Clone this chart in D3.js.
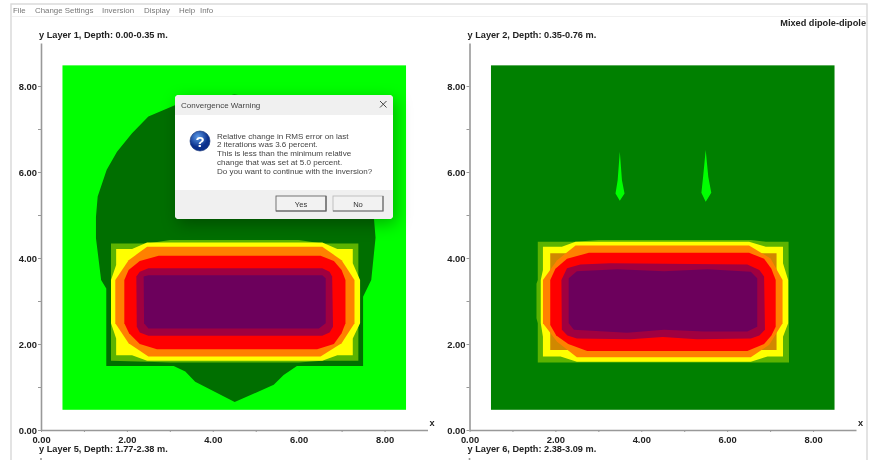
<!DOCTYPE html>
<html>
<head>
<meta charset="utf-8">
<script src="https://cdn.jsdelivr.net/npm/d3@7"></script>
<style>
  html, body { margin: 0; padding: 0; background: #fff; overflow: hidden; }
  svg { display: block; filter: blur(0.55px); font-family: "Liberation Sans", Arial, sans-serif; }
  .axis path, .axis line { stroke: #999; }
  .axis path { stroke-width: 1.6; }
  .axis text { font-size: 9.4px; font-weight: bold; fill: #222; font-family: "Liberation Sans", Arial, sans-serif; }
  .title { font-size: 9.2px; font-weight: bold; fill: #222; }
  .menu { font-size: 7.9px; fill: #777; }
  .msg { font-size: 8.05px; fill: #444; }
</style>
</head>
<body>
<svg width="869" height="460"></svg>
<script>
const ticks = [0, 1, 2, 3, 4, 5, 6, 7, 8]
const menuLabels = ['File', 'Change Settings', 'Inversion', 'Display', 'Help', 'Info']
const menuX = [13, 35, 102, 144, 179, 200]
const messageLines = [
  'Relative change in RMS error on last',
  '2 iterations was 3.6 percent.',
  'This is less than the minimum relative',
  'change that was set at 5.0 percent.',
  'Do you want to continue with the inversion?'
]

// contour outlines in metres
const extent = [[0.5, 0.47], [8.5, 8.48]]

const layer1Blob = [[4.51,0.65],[3.59,1.12],[3.36,1.36],[3.09,1.49],[1.52,1.49],[1.52,3.29],[1.4,3.49],[1.28,4.46],[1.28,4.96],[1.32,5.43],[1.53,6.05],[1.77,6.47],[2.12,6.9],[2.5,7.29],[3.13,7.56],[4.5,7.8],[6.4,7.56],[7.3,6.4],[7.75,4.96],[7.79,4.47],[7.69,3.49],[7.5,3.1],[7.5,1.49],[5.96,1.49],[5.65,1.28],[5.42,1.05]]
const layer1Mid = [[1.63,4.34],[2.47,4.34],[3.01,4.42],[6,4.42],[6.55,4.34],[7.39,4.34],[7.39,1.61],[6.55,1.61],[6,1.57],[3,1.57],[2.47,1.59],[1.63,1.61]]
const layer1Yellow = [[1.75,4.21],[2.12,4.21],[2.47,4.36],[6.55,4.36],[6.9,4.21],[7.26,4.21],[7.26,3.88],[7.43,3.49],[7.43,2.48],[7.26,2.13],[7.26,1.74],[6.9,1.74],[6.55,1.61],[2.47,1.61],[2.12,1.74],[1.75,1.74],[1.75,2.13],[1.63,2.48],[1.63,3.49],[1.75,3.84]]
const layer1Orange = [[2.47,4.26],[6.55,4.26],[7,3.95],[7.3,3.49],[7.3,2.48],[7,2.02],[6.51,1.71],[2.5,1.71],[2.04,2.02],[1.73,2.48],[1.73,3.49],[2.04,3.95]]
const layer1Red = [[2.74,4.05],[6.51,4.05],[6.82,3.93],[7,3.72],[7.09,3.49],[7.09,2.48],[7,2.25],[6.82,2],[6.43,1.88],[2.7,1.88],[2.3,2],[2.05,2.25],[1.94,2.48],[1.94,3.49],[2.04,3.72],[2.3,3.93]]
const layer1Crimson = [[2.5,3.76],[6.55,3.76],[6.72,3.68],[6.78,3.57],[6.8,2.4],[6.72,2.27],[6.55,2.19],[2.5,2.19],[2.3,2.27],[2.23,2.4],[2.22,3.57],[2.3,3.68]]
const layer1Purple = [[2.5,3.6],[6.55,3.6],[6.63,3.53],[6.63,2.48],[6.47,2.36],[2.5,2.36],[2.4,2.48],[2.39,3.57]]

const layer2SpikeA = [[3.5,6.47],[3.55,5.81],[3.61,5.5],[3.5,5.33],[3.4,5.5],[3.45,5.81]]
const layer2SpikeB = [[5.5,6.51],[5.56,5.89],[5.63,5.52],[5.5,5.31],[5.4,5.52],[5.44,5.89]]
const layer2Mid = [[1.59,4.38],[2.47,4.38],[3,4.42],[6.55,4.42],[6.9,4.38],[7.43,4.38],[7.44,1.57],[6.55,1.57],[2.47,1.57],[1.59,1.57],[1.59,2.48],[1.56,2.6],[1.56,3.4],[1.59,3.49]]
const layer2Yellow = [[1.71,4.26],[2.15,4.26],[2.47,4.38],[6.51,4.38],[6.9,4.26],[7.3,4.26],[7.3,3.88],[7.42,3.49],[7.42,2.48],[7.3,2.17],[7.3,1.71],[6.94,1.71],[6.55,1.59],[2.5,1.59],[2.12,1.71],[1.71,1.71],[1.71,2.17],[1.66,2.48],[1.66,3.49],[1.71,3.72]]
const layer2Brown = [[1.88,4.11],[7.15,4.11],[7.15,1.86],[1.88,1.86]]
const layer2Orange = [[2.47,4.29],[6.51,4.29],[7.01,3.99],[7.29,3.49],[7.29,2.48],[6.98,1.98],[6.55,1.69],[2.5,1.69],[2.04,2.05],[1.71,2.48],[1.71,3.49],[2.04,3.95]]
const layer2Red = [[2.78,4.12],[6.51,4.12],[6.86,3.98],[7.03,3.75],[7.13,3.49],[7.13,2.4],[7.03,2.2],[6.86,2],[6.47,1.84],[2.74,1.84],[2.3,2],[2.02,2.2],[1.88,2.44],[1.88,3.49],[2,3.75],[2.27,3.98]]
const layer2Crimson = [[2.58,3.85],[3.28,3.88],[6.47,3.85],[6.75,3.72],[6.86,3.57],[6.88,2.33],[6.75,2.2],[6.55,2.13],[5.3,2.11],[4.5,2.16],[3.75,2.11],[2.5,2.13],[2.28,2.2],[2.15,2.33],[2.14,3.49],[2.27,3.76]]
const layer2Purple = [[2.5,3.69],[3.44,3.74],[4.53,3.69],[5.54,3.74],[6.55,3.68],[6.7,3.53],[6.7,2.4],[6.47,2.29],[5.46,2.29],[4.53,2.33],[3.67,2.26],[2.43,2.33],[2.31,2.48],[2.31,3.53]]

const GREEN = '#00ff00', DARK = '#008000', BLOB = '#006f00', MID = '#5cb300'
const YELLOW = '#ffff00', BROWN = '#d08800', ORANGE = '#ff8000', RED = '#ff0000', CRIMSON = '#a00040', PURPLE = '#6c005c'

const svg = d3.select('svg')
const y = d3.scaleLinear().domain([0, 9]).range([430, 43])

// window frame and menu
svg.append('rect').attr('x', 11).attr('y', 4).attr('width', 856).attr('height', 470)
  .attr('fill', '#fff').attr('stroke', '#d8d8d8').attr('stroke-width', 1.4)
svg.append('line').attr('x1', 12).attr('x2', 866).attr('y1', 16.5).attr('y2', 16.5).attr('stroke', '#f0f0f0')
svg.selectAll('.menu').data(menuLabels).enter().append('text')
  .attr('class', 'menu')
  .attr('x', (d, i) => menuX[i]).attr('y', 13)
  .text(d => d)
svg.append('text').attr('class', 'title')
  .attr('x', 866).attr('y', 26).attr('text-anchor', 'end')
  .text('Mixed dipole-dipole')

const drawPanel = (x0, layerTitle, nextTitle, background, bands) => {
  const x = d3.scaleLinear().domain([0, 9]).range([x0, x0 + 386.5])
  const g = svg.append('g')
  const outline = d3.line().x(d => x(d[0])).y(d => y(d[1]))

  g.append('rect')
    .attr('x', x(extent[0][0])).attr('y', y(extent[1][1]))
    .attr('width', x(extent[1][0]) - x(extent[0][0]))
    .attr('height', y(extent[0][1]) - y(extent[1][1]))
    .attr('fill', background)

  g.selectAll('path.band').data(bands).enter().append('path')
    .attr('class', 'band')
    .attr('d', d => outline(d.points) + 'Z')
    .attr('fill', d => d.color)

  const fmt = d => d % 2 === 0 ? d.toFixed(2) : ''
  g.append('g').attr('class', 'axis')
    .attr('transform', `translate(${x0},0)`)
    .call(d3.axisLeft(y).tickValues(ticks).tickSize(3).tickSizeOuter(0).tickPadding(1).tickFormat(fmt))
  g.append('g').attr('class', 'axis')
    .attr('transform', 'translate(0,430)')
    .call(d3.axisBottom(x).tickValues(ticks).tickSize(2).tickSizeOuter(0).tickPadding(4).tickFormat(fmt))

  g.append('text').attr('class', 'title').attr('x', x0 - 2).attr('y', 38).text(layerTitle)
  g.append('text').attr('class', 'title').attr('x', x0 - 2).attr('y', 452).text(nextTitle)
  g.append('text').attr('class', 'title').attr('x', x(9) + 2).attr('y', 426).text('x')
  g.append('line').attr('x1', x0).attr('x2', x0).attr('y1', 458).attr('y2', 460)
    .attr('stroke', '#999').attr('stroke-width', 1.6)
}

drawPanel(41, 'y Layer 1, Depth: 0.00-0.35 m.', 'y Layer 5, Depth: 1.77-2.38 m.', GREEN, [
  { points: layer1Blob, color: BLOB },
  { points: layer1Mid, color: MID },
  { points: layer1Yellow, color: YELLOW },
  { points: layer1Orange, color: ORANGE },
  { points: layer1Red, color: RED },
  { points: layer1Crimson, color: CRIMSON },
  { points: layer1Purple, color: PURPLE }
])

drawPanel(469.5, 'y Layer 2, Depth: 0.35-0.76 m.', 'y Layer 6, Depth: 2.38-3.09 m.', DARK, [
  { points: layer2SpikeA, color: GREEN },
  { points: layer2SpikeB, color: GREEN },
  { points: layer2Mid, color: MID },
  { points: layer2Yellow, color: YELLOW },
  { points: layer2Brown, color: BROWN },
  { points: layer2Orange, color: ORANGE },
  { points: layer2Red, color: RED },
  { points: layer2Crimson, color: CRIMSON },
  { points: layer2Purple, color: PURPLE }
])

// warning dialog on top
const defs = svg.append('defs')
const grad = defs.append('radialGradient').attr('id', 'qmark').attr('cx', '40%').attr('cy', '30%')
grad.append('stop').attr('offset', '0%').attr('stop-color', '#5c9be8')
grad.append('stop').attr('offset', '100%').attr('stop-color', '#0a2f8c')
const clip = defs.append('clipPath').attr('id', 'dialogClip')
clip.append('rect').attr('x', 175).attr('y', 95).attr('width', 218).attr('height', 124).attr('rx', 4)

const dialog = svg.append('g')
dialog.append('rect').attr('x', 175).attr('y', 95).attr('width', 218).attr('height', 124).attr('rx', 4)
  .attr('fill', '#fff')
  .style('filter', 'drop-shadow(3px 5px 8px rgba(0,0,0,0.3))')
const inner = dialog.append('g').attr('clip-path', 'url(#dialogClip)')
inner.append('rect').attr('x', 175).attr('y', 95).attr('width', 218).attr('height', 20).attr('fill', '#f0f0f0')
inner.append('rect').attr('x', 175).attr('y', 190).attr('width', 218).attr('height', 29).attr('fill', '#f0f0f0')
dialog.append('text').attr('x', 181).attr('y', 108).attr('font-size', 8).attr('fill', '#444').text('Convergence Warning')
dialog.append('path').attr('d', 'M380 101L386.5 107.5M386.5 101L380 107.5').attr('stroke', '#444').attr('stroke-width', 1).attr('fill', 'none')
dialog.append('circle').attr('cx', 200).attr('cy', 141).attr('r', 10).attr('fill', 'url(#qmark)').attr('stroke', '#0a2a70').attr('stroke-width', 0.6)
dialog.append('text').attr('x', 200).attr('y', 146.5).attr('text-anchor', 'middle').attr('font-size', 15).attr('font-weight', 'bold').attr('fill', '#fff').text('?')
dialog.selectAll('.msg').data(messageLines).enter().append('text')
  .attr('class', 'msg').attr('x', 217)
  .attr('y', (d, i) => 138.5 + i * 8.8)
  .text(d => d)

const buttons = [{ label: 'Yes', bx: 276, line: '#666' }, { label: 'No', bx: 333, line: '#bbb' }]
buttons.forEach(b => {
  dialog.append('rect').attr('x', b.bx).attr('y', 196).attr('width', 50).attr('height', 15)
    .attr('fill', '#f2f2f2').attr('stroke', b.line).attr('stroke-width', 0.9)
  dialog.append('path')
    .attr('d', `M${b.bx + 50} 196V211H${b.bx}`)
    .attr('fill', 'none').attr('stroke', '#666').attr('stroke-width', 1.2)
  dialog.append('text').attr('x', b.bx + 25).attr('y', 206.5).attr('text-anchor', 'middle')
    .attr('font-size', 7.6).attr('fill', '#333').text(b.label)
})
</script>
</body>
</html>
